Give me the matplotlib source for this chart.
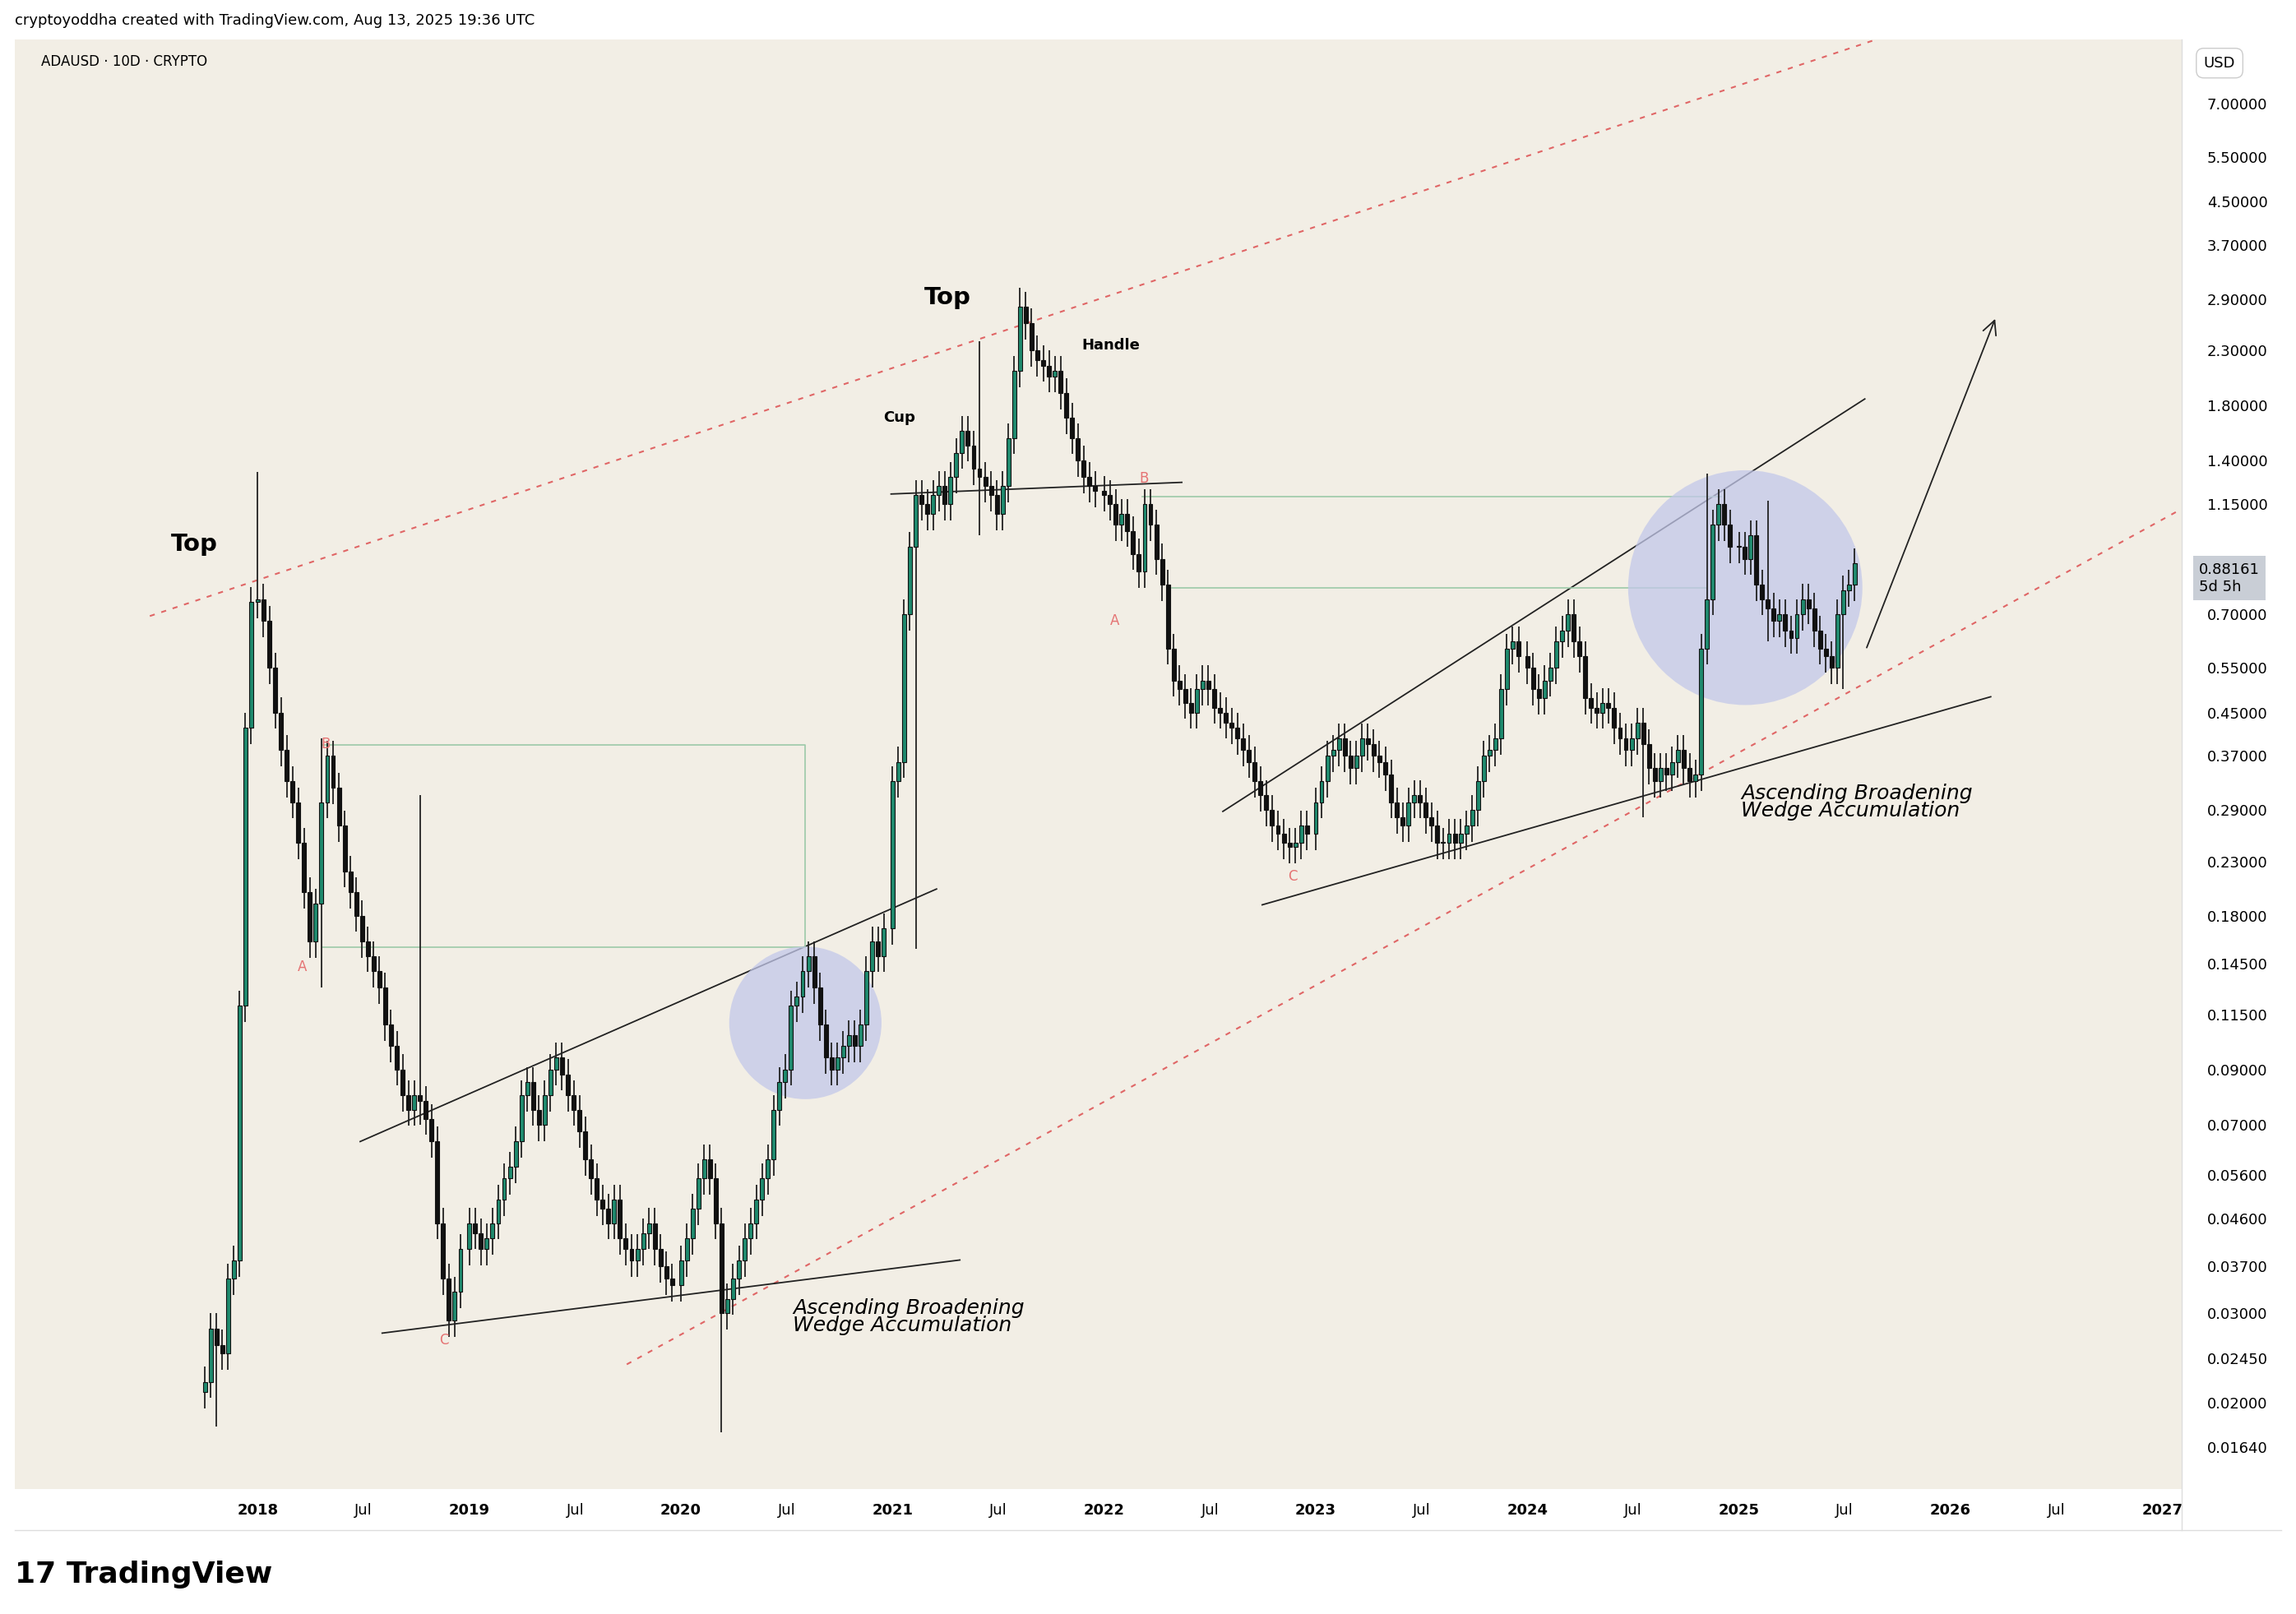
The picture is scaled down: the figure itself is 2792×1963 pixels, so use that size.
import matplotlib.pyplot as plt
import numpy as np
from matplotlib.patches import Ellipse

# 10-day closes per calendar year (ADAUSD)
c2017 = [0.022, 0.028, 0.026, 0.025, 0.035, 0.038, 0.12, 0.42, 0.74]
c2018 = [0.75, 0.68, 0.55, 0.45, 0.38, 0.33, 0.30, 0.25, 0.20, 0.16, 0.19, 0.30, 0.37, 0.32, 0.27, 0.22, 0.20, 0.18,
         0.16, 0.15, 0.14, 0.13, 0.11, 0.10, 0.09, 0.08, 0.075, 0.08, 0.078, 0.072, 0.065, 0.045, 0.035, 0.029, 0.033, 0.040]
c2019 = [0.045, 0.043, 0.040, 0.042, 0.045, 0.050, 0.055, 0.058, 0.065, 0.080, 0.085, 0.075, 0.070, 0.080, 0.090, 0.095,
         0.088, 0.080, 0.075, 0.068, 0.060, 0.055, 0.050, 0.048, 0.045, 0.050, 0.042, 0.040, 0.038, 0.040, 0.043, 0.045,
         0.040, 0.037, 0.035, 0.034]
c2020 = [0.038, 0.042, 0.048, 0.055, 0.060, 0.055, 0.045, 0.030, 0.032, 0.035, 0.038, 0.042, 0.045, 0.050, 0.055, 0.060,
         0.075, 0.085, 0.090, 0.120, 0.125, 0.140, 0.150, 0.130, 0.110, 0.095, 0.090, 0.095, 0.100, 0.105, 0.100, 0.110,
         0.140, 0.160, 0.150, 0.170]
c2021 = [0.33, 0.36, 0.70, 0.95, 1.20, 1.15, 1.10, 1.20, 1.25, 1.15, 1.30, 1.45, 1.60, 1.50, 1.35, 1.30, 1.25, 1.20,
         1.10, 1.25, 1.55, 2.10, 2.80, 2.60, 2.30, 2.20, 2.15, 2.05, 2.10, 1.90, 1.70, 1.55, 1.40, 1.30, 1.25, 1.22]
c2022 = [1.20, 1.15, 1.05, 1.10, 1.02, 0.92, 0.85, 1.15, 1.05, 0.90, 0.80, 0.60, 0.52, 0.50, 0.47, 0.45, 0.50, 0.52,
         0.50, 0.46, 0.45, 0.43, 0.42, 0.40, 0.38, 0.36, 0.33, 0.31, 0.29, 0.27, 0.26, 0.25, 0.245, 0.25, 0.27, 0.26]
c2023 = [0.30, 0.33, 0.37, 0.38, 0.40, 0.37, 0.35, 0.37, 0.40, 0.39, 0.37, 0.36, 0.34, 0.30, 0.28, 0.27, 0.30, 0.31,
         0.30, 0.28, 0.27, 0.25, 0.25, 0.26, 0.25, 0.26, 0.27, 0.29, 0.33, 0.37, 0.38, 0.40, 0.50, 0.60, 0.62, 0.58]
c2024 = [0.55, 0.50, 0.48, 0.52, 0.55, 0.62, 0.65, 0.70, 0.62, 0.58, 0.48, 0.46, 0.45, 0.47, 0.46, 0.42, 0.40, 0.38,
         0.40, 0.43, 0.39, 0.35, 0.33, 0.35, 0.34, 0.36, 0.38, 0.35, 0.33, 0.34, 0.60, 0.75, 1.05, 1.15, 1.05, 0.95]
c2025 = [0.95, 0.90, 1.00, 0.80, 0.75, 0.72, 0.68, 0.70, 0.65, 0.63, 0.70, 0.75, 0.72, 0.65, 0.60, 0.58, 0.55, 0.70,
         0.78, 0.80, 0.88161]

# notable wicks: (date, high, low)
wicks = [(2017.80, 0.030, 0.018), (2018.01, 1.33, 0.70), (2018.30, 0.40, 0.13), (2018.76, 0.31, 0.07),
         (2020.19, 0.036, 0.0175), (2021.12, 1.0, 0.155), (2021.61, 3.05, 2.2), (2021.40, 2.4, 1.0),
         (2024.86, 1.32, 0.70), (2025.15, 1.17, 0.62), (2024.55, 0.40, 0.28), (2025.50, 0.62, 0.50)]

dates, closes = [], []
for d, v in zip(2017.75 + np.arange(len(c2017)) * 10 / 365.25, c2017):
    dates.append(d); closes.append(v)
for yr, lst in [(2018, c2018), (2019, c2019), (2020, c2020), (2021, c2021), (2022, c2022),
                (2023, c2023), (2024, c2024), (2025, c2025)]:
    for i, v in enumerate(lst):
        dates.append(yr + i * 10 / 365.25); closes.append(v)
dates = np.array(dates); closes = np.array(closes)
opens = np.concatenate([[0.021], closes[:-1]])
highs = np.maximum(opens, closes) * 1.07
lows = np.minimum(opens, closes) * 0.93
for d, h, l in wicks:
    k = np.argmin(abs(dates - d))
    highs[k] = max(highs[k], h); lows[k] = min(lows[k], l)

W, H = 1568, 1100
fig = plt.figure(figsize=(27.92, 19.63), dpi=100, facecolor='white')
ax = fig.add_axes([10 / W, 1 - 1015 / H, 1480 / W, 988 / H])
bg = '#f2eee5'
ax.set_facecolor(bg)
ax.set_yscale('log')
ax.set_xlim(2016.851, 2027.093)
ax.set_ylim(0.01355, 9.35)

up, dn = '#1f8a6e', '#111111'
bw = 0.7 * 10 / 365.25
for d, o, h, l, c in zip(dates, opens, highs, lows, closes):
    col = up if c >= o else dn
    ax.vlines(d, l, h, color='#222222', lw=1.3, zorder=3)
    ax.bar(d, abs(c - o) if abs(c - o) > 1e-9 else c * 0.005, bottom=min(o, c), width=bw,
           color=col, edgecolor='#111111', lw=0.8, zorder=4)

# channel lines
ax.plot([2017.49, 2025.63], [0.695, 9.3], color='#e06666', ls=(0, (3, 4)), lw=1.5)
ax.plot([2019.744, 2027.093], [0.0238, 1.127], color='#e06666', ls=(0, (3, 4)), lw=1.5)
# wedges
for xs, ys in [([2018.484, 2021.208], [0.065, 0.203]), ([2018.588, 2021.318], [0.0274, 0.0381]),
               ([2022.561, 2025.595], [0.288, 1.85]), ([2022.747, 2026.19], [0.189, 0.483]),
               ([2020.993, 2022.367], [1.205, 1.27])]:
    ax.plot(xs, ys, color='#222222', lw=1.3)
ax.annotate('', xy=(2026.215, 2.68), xytext=(2025.60, 0.597),
            arrowprops=dict(arrowstyle='->', color='#222222', lw=1.3, mutation_scale=30))
# green boxes/lines
gcol = '#9cc9a8'
ax.plot([2018.304, 2020.588, 2020.588, 2018.304], [0.388, 0.388, 0.156, 0.156], color=gcol, lw=1.2)
ax.plot([2022.18, 2024.917], [1.19, 1.19], color=gcol, lw=1.2)
ax.plot([2022.32, 2024.85], [0.79, 0.79], color=gcol, lw=1.2)

# circles (behind candles)
for cx, cy, r in [(2020.588, 0.111, 52), (2025.03, 0.79, 80)]:
    pt = fig.transFigure.inverted().transform(ax.transData.transform((cx, cy)))
    ax.add_patch(Ellipse(pt, 2 * r / W, 2 * r / H, transform=fig.transFigure,
                         facecolor='#c3c8ea', alpha=0.75, edgecolor='none', zorder=2))

# texts
ax.text(2017.70, 0.96, 'Top', fontsize=21, fontweight='bold', ha='center', va='center')
ax.text(2021.26, 2.92, 'Top', fontsize=21, fontweight='bold', ha='center', va='center')
ax.text(2021.03, 1.70, 'Cup', fontsize=13, fontweight='bold', ha='center', va='center')
ax.text(2022.03, 2.36, 'Handle', fontsize=13, fontweight='bold', ha='center', va='center')
red = '#e57373'
for x, y, t in [(2018.32, 0.39, 'B'), (2018.21, 0.143, 'A'), (2018.88, 0.0265, 'C'),
                (2022.19, 1.29, 'B'), (2022.05, 0.68, 'A'), (2022.89, 0.215, 'C')]:
    ax.text(x, y, t, color=red, fontsize=12, ha='center', va='center', zorder=6)
for x, y in [(2020.53, 0.0295), (2025.01, 0.30)]:
    ax.text(x, y, 'Ascending Broadening\nWedge Accumulation', fontsize=18, style='italic',
            ha='left', va='center', linespacing=0.85)
ax.text(18 / 1480, 1 - 15 / 988, 'ADAUSD · 10D · CRYPTO', transform=ax.transAxes, fontsize=12, va='center')

# axes styling
for s in ax.spines.values():
    s.set_visible(False)
ax.yaxis.tick_right()
yt = [7.0, 5.5, 4.5, 3.7, 2.9, 2.3, 1.8, 1.4, 1.15, 0.7, 0.55, 0.45, 0.37, 0.29, 0.23, 0.18, 0.145, 0.115,
      0.09, 0.07, 0.056, 0.046, 0.037, 0.03, 0.0245, 0.02, 0.0164]
ax.set_yticks(yt)
ax.set_yticklabels(['%.5f' % v for v in yt])
ax.yaxis.set_minor_locator(plt.NullLocator())
ax.tick_params(axis='y', length=0, pad=22, labelsize=13)
xt, xl = [], []
for y in range(2018, 2028):
    xt += [y, y + 0.5]; xl += [str(y), 'Jul']
xt, xl = xt[:-1], xl[:-1]
ax.set_xticks(xt)
ax.set_xticklabels(xl)
for lab in ax.get_xticklabels():
    if lab.get_text() != 'Jul':
        lab.set_fontweight('bold')
ax.tick_params(axis='x', length=0, pad=12, labelsize=13)
ax.grid(False)

# last price tag
ax.text(1.008, (1015 - 394) / 988, '0.88161\n5d 5h', transform=ax.transAxes, fontsize=13, va='center', ha='left',
        bbox=dict(boxstyle='square,pad=0.4', fc='#c9ced6', ec='none'))
fig.text(1505 / W, 1 - 43 / H, 'USD', fontsize=13, va='center',
         bbox=dict(boxstyle='round,pad=0.5', fc='white', ec='#cccccc'))
fig.lines.append(plt.Line2D([10 / W, 1558 / W], [1 - 1043 / H] * 2, color='#dddddd', lw=1, transform=fig.transFigure))
fig.lines.append(plt.Line2D([1490 / W] * 2, [1 - 1043 / H, 1 - 27 / H], color='#dddddd', lw=1, transform=fig.transFigure))
fig.text(10 / W, 1 - 14 / H, 'cryptoyoddha created with TradingView.com, Aug 13, 2025 19:36 UTC', fontsize=13, va='center')
fig.text(10 / W, 1 - 1073 / H, '17 TradingView', fontsize=26, fontweight='bold', va='center')

fig.savefig('out.png', dpi=100, facecolor='white')
